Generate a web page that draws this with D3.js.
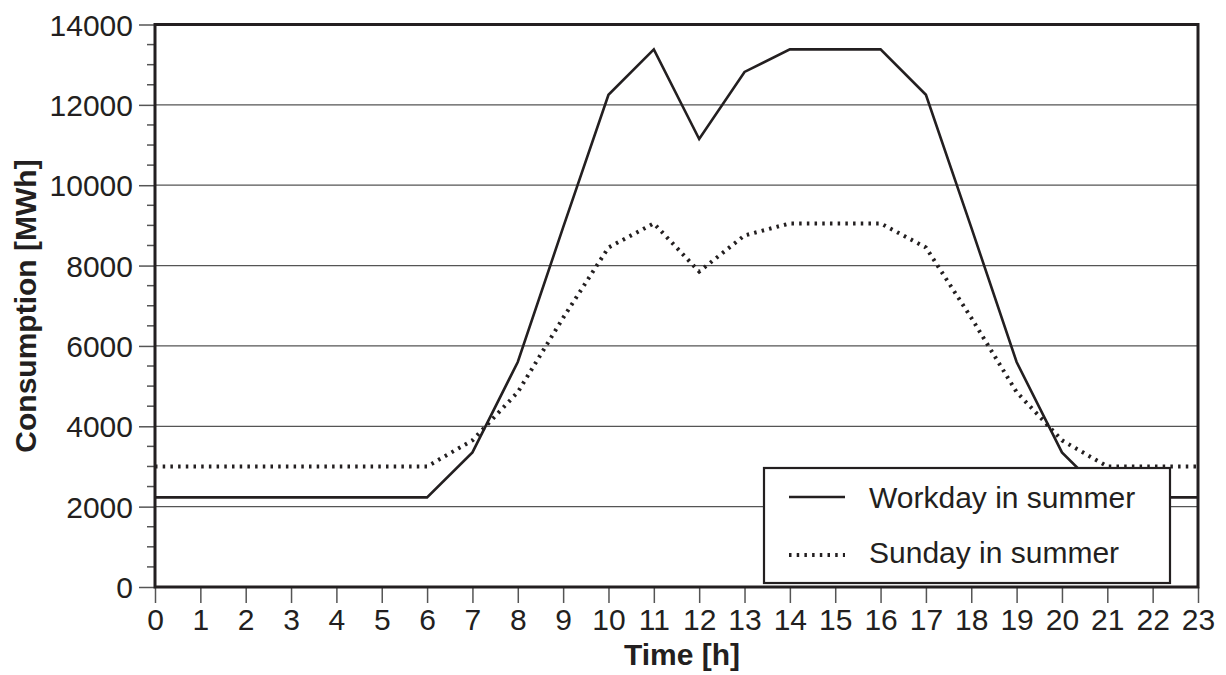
<!DOCTYPE html>
<html><head><meta charset="utf-8">
<script src="https://cdn.jsdelivr.net/npm/d3@7"></script>
<style>body{margin:0;background:#fff}svg{display:block}text{font-family:"Liberation Sans",Arial,sans-serif;fill:#231f20}</style>
</head><body><svg id="c" width="1226" height="675"></svg>
<script>
const hours = d3.range(0, 24);
const workday = [2230,2230,2230,2230,2230,2230,2230,3350,5600,8950,12250,13380,11150,12820,13380,13380,13380,12250,8950,5600,3350,2230,2230,2230];
const sunday = [3000,3000,3000,3000,3000,3000,3000,3650,4850,6700,8450,9050,7850,8750,9050,9050,9050,8450,6700,4850,3650,3000,3000,3000];
const yTicks = [0,2000,4000,6000,8000,10000,12000,14000];
const seriesNames = ["Workday in summer","Sunday in summer"];

const svg = d3.select("#c");
const L=155,R=1198,T=24.5,B=587;
const x = d3.scaleLinear().domain([0,23]).range([L,R]);
const y = d3.scaleLinear().domain([0,14000]).range([B,T]);
const ink="#231f20";
const FS=30;

// grid
svg.append("g").selectAll("line").data(yTicks.slice(1,-1)).join("line")
  .attr("x1",L).attr("x2",R).attr("y1",d=>y(d)).attr("y2",d=>y(d))
  .attr("stroke","#555").attr("stroke-width",1.3);

// y axis
const ya = svg.append("g").attr("transform",`translate(${L},0)`)
  .call(d3.axisLeft(y).tickValues(yTicks).tickSize(16).tickPadding(6).tickFormat(d3.format("d")));
ya.select(".domain").remove();
ya.selectAll("line").attr("stroke","#555").attr("stroke-width",1.5);
ya.selectAll("text").attr("font-size",FS).attr("fill",ink).attr("dy","0.35em").attr("font-family","Liberation Sans");
svg.append("g").selectAll("line").data(d3.range(500,14000,500).filter(v=>v%2000)).join("line")
  .attr("x1",L-8).attr("x2",L).attr("y1",d=>y(d)).attr("y2",d=>y(d))
  .attr("stroke","#555").attr("stroke-width",1.5);

// x axis
const xa = svg.append("g").attr("transform",`translate(0,${B})`)
  .call(d3.axisBottom(x).tickValues(hours).tickSize(16).tickPadding(6).tickFormat(d3.format("d")));
xa.select(".domain").remove();
xa.selectAll("line").attr("stroke","#555").attr("stroke-width",1.5);
xa.selectAll("text").attr("font-size",FS).attr("fill",ink).attr("font-family","Liberation Sans");

// lines
const line = d3.line().x((d,i)=>x(hours[i])).y(d=>y(d));
svg.append("path").datum(workday).attr("d",line).attr("fill","none").attr("stroke",ink).attr("stroke-width",2.6).attr("stroke-linejoin","miter");
svg.append("path").datum(sunday).attr("d",line).attr("fill","none").attr("stroke",ink).attr("stroke-width",4).attr("stroke-dasharray","2.5,5.2");

// frame
svg.append("rect").attr("x",L).attr("y",T).attr("width",R-L).attr("height",B-T)
  .attr("fill","none").attr("stroke",ink).attr("stroke-width",3);

// legend
const lg = svg.append("g");
lg.append("rect").attr("x",764).attr("y",468).attr("width",406).attr("height",115)
  .attr("fill","#fff").attr("stroke",ink).attr("stroke-width",2.2);
lg.append("line").attr("x1",789).attr("x2",845).attr("y1",497).attr("y2",497).attr("stroke",ink).attr("stroke-width",2.6);
lg.append("line").attr("x1",789).attr("x2",845).attr("y1",555).attr("y2",555).attr("stroke",ink).attr("stroke-width",4).attr("stroke-dasharray","2.5,5.2");
lg.selectAll("text").data(seriesNames).join("text")
  .attr("x",869).attr("y",(d,i)=>[497,552][i]).attr("dy","0.35em")
  .attr("font-size",FS).text(d=>d);

// axis titles
svg.append("text").attr("x",682).attr("y",665).attr("text-anchor","middle")
  .attr("font-size",FS).attr("font-weight","bold").text("Time [h]");
svg.append("text").attr("transform","translate(36,306) rotate(-90)").attr("text-anchor","middle")
  .attr("font-size",FS).attr("font-weight","bold").text("Consumption [MWh]");
</script></body></html>
